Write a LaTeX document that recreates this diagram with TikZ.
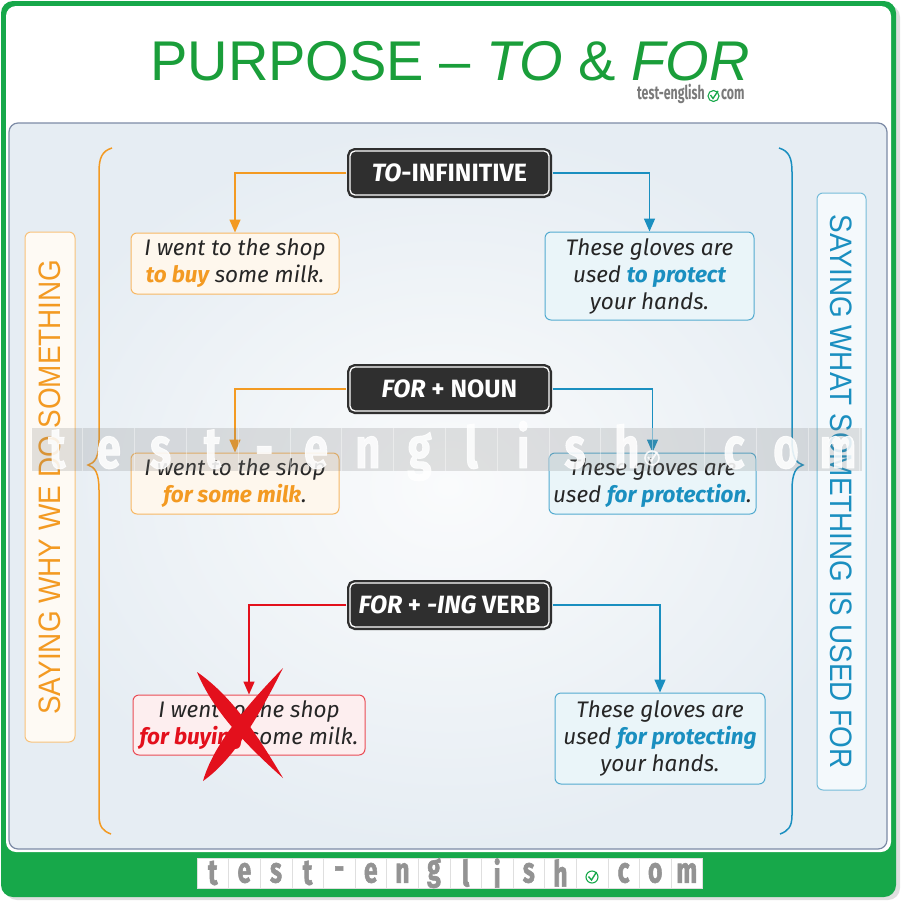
\documentclass[tikz,border=0pt]{standalone}
\usepackage{fontspec}
\setmainfont{Liberation Sans}
\newfontfamily\narrowfont[FakeStretch=0.9]{Liberation Sans}
\newfontfamily\exfont{Fira Sans}
\newfontfamily\cellfont[FakeStretch=0.68, FakeBold=1.5]{Fira Sans}
\newfontfamily\smallwm[FakeStretch=0.65]{Fira Sans}
\newfontfamily\wmfont[FakeStretch=0.75, FakeBold=1.5]{Fira Sans}
\usetikzlibrary{arrows.meta}
\definecolor{fgreen}{HTML}{17A84A}
\definecolor{tgreen}{HTML}{1A9E3A}
\definecolor{orng}{HTML}{F39A22}
\definecolor{blu}{HTML}{1A8FC0}
\definecolor{rd}{HTML}{E3101C}
\definecolor{dark}{HTML}{2F2F2F}
\definecolor{txt}{HTML}{262626}
\definecolor{panelline}{HTML}{7D8BA6}
\definecolor{wmgray}{HTML}{7A7A7A}
\definecolor{panelin}{HTML}{FAFBFC}
\definecolor{panelout}{HTML}{E6EDF3}
\newcommand\hlo[1]{\textcolor{orng}{\bfseries #1}}
\newcommand\hlb[1]{\textcolor{blu}{\bfseries #1}}
\newcommand\hlr[1]{\textcolor{rd}{\bfseries #1}}
\begin{document}
\begin{tikzpicture}[x=1pt,y=-1pt,
  hdr/.style={fill=dark, draw=white, line width=1.3pt, rounded corners=5pt,
    minimum width=199pt, minimum height=44pt, inner sep=0pt, text=white,
    font=\exfont\bfseries\fontsize{25}{29}\selectfont,
    preaction={draw=dark, line width=6pt}},
  exbox/.style={rounded corners=6pt, line width=1pt, align=center, inner sep=0pt,
    font=\exfont\itshape\fontsize{22.5}{27}\selectfont, text=txt},
  lbox/.style={exbox, draw=orng!70, fill=orng!8},
  rbox/.style={exbox, draw=blu!75, fill=blu!9},
  xbox/.style={exbox, draw=rd!75, fill=rd!7},
  arr/.style={line width=1.5pt, -{Triangle[width=11pt,length=13pt]}},
  brace/.style={line width=1.5pt},
  cell/.style={fill=white, draw=gray!25, line width=0.6pt, minimum width=31.6pt,
    minimum height=30pt, inner sep=0pt, text=gray!85,
    font=\cellfont\bfseries\fontsize{36}{36}\selectfont},
  wm/.style={inner sep=0pt, text=white, opacity=0.85,
    font=\wmfont\bfseries\fontsize{58}{58}\selectfont}
]
\useasboundingbox (0,0) rectangle (902,902);
% frame
\fill[gray!25, rounded corners=12pt] (5,5) rectangle (900,900);
\fill[fgreen, rounded corners=12pt] (1,1) rectangle (896,897);
\fill[white, rounded corners=10pt] (6,6) rectangle (891,852);
% panel
\shade[inner color=panelin, outer color=panelout, rounded corners=9pt] (9,123) rectangle (887,849);
\draw[panelline, line width=1.2pt, rounded corners=9pt] (9,123) rectangle (887,849);
% title
\node[anchor=base, text=tgreen, font=\fontsize{56}{60}\selectfont, inner sep=0pt] (title) at (450,80)
  {PURPOSE -- \itshape TO\upshape{} \& \itshape FOR};
\node[anchor=base east, text=wmgray, inner sep=0pt, font=\smallwm\bfseries\fontsize{19}{19}\selectfont] (tw1) at (705,99) {test-english};
\node[anchor=base west, text=wmgray, inner sep=0pt, font=\smallwm\bfseries\fontsize{19}{19}\selectfont] (tw2) at (721,99) {com};
\draw[fgreen, line width=1.1pt] (713.5,96) circle (5.5);
\draw[fgreen, line width=1.3pt] (710.5,95) -- (713,98.5) -- (718,91);
% braces
\draw[orng, brace] (112,148) .. controls (102,151) and (99,158) .. (99,172) -- (99,440)
  .. controls (99,457) and (95,463) .. (88,465) .. controls (95,467) and (99,473) .. (99,490)
  -- (99,815) .. controls (99,827) and (103,831) .. (111,834);
\draw[blu, brace] (779,148) .. controls (789,151) and (792,158) .. (792,172) -- (792,440)
  .. controls (792,457) and (796,463) .. (803,465) .. controls (796,467) and (792,473) .. (792,490)
  -- (792,815) .. controls (792,827) and (788,831) .. (780,834);
% side labels
\node[draw=orng!60, fill=orng!5, line width=1pt, rounded corners=6pt, minimum width=510pt,
  minimum height=50pt, rotate=90, inner sep=0pt, text=orng,
  font=\narrowfont\fontsize{31}{31}\selectfont] (sl) at (50,487) {SAYING WHY WE DO SOMETHING};
\node[draw=blu!60, fill=blu!5, line width=1pt, rounded corners=6pt, minimum width=597pt,
  minimum height=49pt, rotate=-90, inner sep=0pt, text=blu,
  font=\narrowfont\fontsize{31}{31}\selectfont] (sr) at (841.5,491.5) {SAYING WHAT SOMETHING IS USED FOR};
% headers
\node[hdr] (h1) at (449.5,173) {\itshape TO\upshape-INFINITIVE};
\node[hdr] (h2) at (449.5,389) {\itshape FOR\upshape{} + NOUN};
\node[hdr] (h3) at (449.5,605) {\itshape FOR \upshape+ \itshape-ING \upshape VERB};
% example boxes
\node[lbox, minimum width=208pt, minimum height=61pt] (l1) at (235,263.5)
  {I went to the shop\\\hlo{to buy} some milk.};
\node[rbox, minimum width=209pt, minimum height=88pt] (r1) at (649.5,276)
  {These gloves are\\used \hlb{to protect}\\your hands.};
\node[lbox, minimum width=208pt, minimum height=61pt] (l2) at (235,483.5)
  {I went to the shop\\\hlo{for some milk}.};
\node[rbox, minimum width=207pt, minimum height=61pt] (r2) at (652.5,483.5)
  {These gloves are\\used \hlb{for protection}.};
\node[xbox, minimum width=232pt, minimum height=60pt] (l3) at (249,725)
  {I went to the shop\\\hlr{for buying} some milk.};
\node[rbox, minimum width=210pt, minimum height=91pt] (r3) at (660,738.5)
  {These gloves are\\used \hlb{for protecting}\\your hands.};
% connectors
\draw[arr, orng] ([xshift=-3pt]h1.west) -| (l1.north);
\draw[arr, blu] ([xshift=3pt]h1.east) -| (r1.north);
\draw[arr, orng] ([xshift=-3pt]h2.west) -| (l2.north);
\draw[arr, blu] ([xshift=3pt]h2.east) -| (r2.north);
\draw[arr, rd] ([xshift=-3pt]h3.west) -| (l3.north);
\draw[arr, blu] ([xshift=3pt]h3.east) -| (r3.north);
% red cross
\fill[rd] (197,672) .. controls (232,696) and (258,736) .. (283,778)
  .. controls (247,746) and (213,711) .. (197,672) -- cycle;
\fill[rd] (283,668) .. controls (258,718) and (233,760) .. (203,781)
  .. controls (213,746) and (244,708) .. (283,668) -- cycle;
% watermark band
\fill[gray, opacity=0.22] (32,428) rectangle (862,471);
\foreach \k in {0,...,16} \draw[white, opacity=0.4, line width=0.8pt] (31+51.8*\k,428) -- (31+51.8*\k,471);
\foreach \c [count=\i from 0] in {t,e,s,t,-,e,n,g,l,i,s,h}
  \node[wm, anchor=base] (w\i) at (57+51.8*\i,468) {\c};
\node[wm, anchor=base] (wc) at (734,468) {c};
\node[wm, anchor=base] (wo) at (786,468) {o};
\node[wm, anchor=base] (wm) at (838,468) {m};
\draw[white, opacity=0.85, line width=1.6pt] (652,458) circle (7);
\draw[white, opacity=0.85, line width=1.8pt] (648,457) -- (651,461) -- (657,452);
% bottom strip
\foreach \c [count=\i from 0] in {t,e,s,t,-,e,n,g,l,i,s,h,{},c,o,m}
  \node[cell] (b\i) at (212.8+31.6*\i,873) {\c};
\draw[fgreen, line width=1.1pt] (b12.center) ++(0,4) circle (6);
\draw[fgreen, line width=1.4pt] (b12.center) ++(-3.5,3.5) -- ++(3,3.5) -- ++(5,-8);
\end{tikzpicture}
\end{document}
